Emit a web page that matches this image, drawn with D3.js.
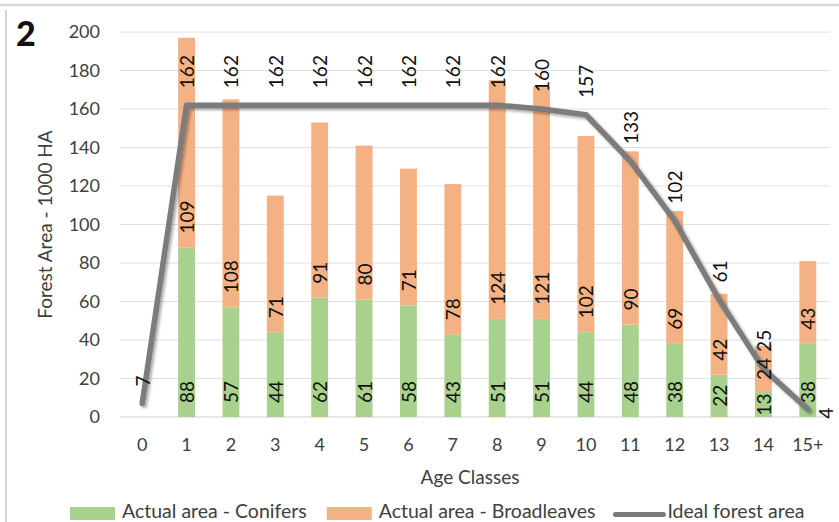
<!DOCTYPE html>
<html>
<head>
<meta charset="utf-8">
<script src="https://cdn.jsdelivr.net/npm/d3@7"></script>
<style>
  html, body { margin: 0; padding: 0; background: #fff; }
  svg { display: block; font-family: Lato, "Open Sans", sans-serif; }
</style>
</head>
<body>
<svg id="chart" width="839" height="522"></svg>
<script>
// Age classes and forest areas (1000 ha)
const ageClasses = ["0", "1", "2", "3", "4", "5", "6", "7", "8", "9", "10", "11", "12", "13", "14", "15+"];
const conifers    = [null, 88, 57, 44, 62, 61, 58, 43, 51, 51, 44, 48, 38, 22, 13, 38];
const broadleaves = [null, 109, 108, 71, 91, 80, 71, 78, 124, 121, 102, 90, 69, 42, 24, 43];
const idealArea   = [7, 162, 162, 162, 162, 162, 162, 162, 162, 160, 157, 133, 102, 61, 25, 4];
const yTicks      = [0, 20, 40, 60, 80, 100, 120, 140, 160, 180, 200];

const colors = { conifers: "#a9d18e", broadleaves: "#f4b183", ideal: "#7b7b7b" };

const svg = d3.select("#chart");
const plot = { left: 120, right: 830, top: 32, bottom: 417 };

// frame edges
svg.append("line").attr("x1", 0).attr("x2", 839).attr("y1", 5).attr("y2", 5)
  .attr("stroke", "#d9d9d9").attr("stroke-width", 2.5);
svg.append("line").attr("x1", 6).attr("x2", 6).attr("y1", 10).attr("y2", 522)
  .attr("stroke", "#d4d4d4").attr("stroke-width", 2);

// panel number
svg.append("text").attr("x", 16).attr("y", 46).attr("font-size", 34).attr("font-weight", 900)
  .attr("fill", "#111").text("2");

const x = d3.scaleBand().domain(ageClasses).range([plot.left, plot.right])
  .paddingInner(0.62).paddingOuter(0.31);
const y = d3.scaleLinear().domain([0, 200]).range([plot.bottom, plot.top]);
const cx = c => x(c) + x.bandwidth() / 2;

// gridlines
svg.append("g").selectAll("line").data(yTicks).join("line")
  .attr("x1", plot.left).attr("x2", plot.right)
  .attr("y1", d => y(d)).attr("y2", d => y(d))
  .attr("stroke", d => d === 0 ? "#cfcfcf" : "#e0e0e0").attr("stroke-width", 1);

// y axis labels
const yAxis = svg.append("g").attr("transform", `translate(${plot.left},0)`)
  .call(d3.axisLeft(y).tickValues(yTicks).tickSize(0).tickPadding(20));
yAxis.select(".domain").remove();
yAxis.selectAll("text").attr("font-size", 18).attr("font-family", "Lato, sans-serif").attr("fill", "#404040");

// x axis labels
const xAxis = svg.append("g").attr("transform", `translate(0,${plot.bottom})`)
  .call(d3.axisBottom(x).tickSize(0).tickPadding(21));
xAxis.select(".domain").remove();
xAxis.selectAll("text").attr("font-size", 18).attr("font-family", "Lato, sans-serif").attr("fill", "#404040");

// axis titles
svg.append("text").attr("x", 470).attr("y", 484).attr("text-anchor", "middle")
  .attr("font-size", 19).attr("fill", "#404040").text("Age Classes");
svg.append("text").attr("transform", `translate(52,${(plot.top + plot.bottom) / 2}) rotate(-90)`)
  .attr("text-anchor", "middle").attr("font-size", 19).attr("fill", "#404040")
  .text("Forest Area - 1000 HA");

// stacked bars
const rows = ageClasses.map((c, i) => ({ c, con: conifers[i], brd: broadleaves[i] }))
  .filter(d => d.con != null);
const bars = svg.append("g");
bars.selectAll("rect.con").data(rows).join("rect").attr("class", "con")
  .attr("x", d => x(d.c)).attr("width", x.bandwidth())
  .attr("y", d => y(d.con)).attr("height", d => y(0) - y(d.con))
  .attr("fill", colors.conifers);
bars.selectAll("rect.brd").data(rows).join("rect").attr("class", "brd")
  .attr("x", d => x(d.c)).attr("width", x.bandwidth())
  .attr("y", d => y(d.con + d.brd)).attr("height", d => y(d.con) - y(d.con + d.brd))
  .attr("fill", colors.broadleaves);

// shadow for the ideal line
const defs = svg.append("defs");
const f = defs.append("filter").attr("id", "lineShadow").attr("x", "-10%").attr("y", "-10%")
  .attr("width", "120%").attr("height", "120%");
f.append("feDropShadow").attr("dx", 2).attr("dy", 2).attr("stdDeviation", 1.8)
  .attr("flood-color", "#000").attr("flood-opacity", 0.35);

const linePts = ageClasses.map((c, i) => ({ c, v: idealArea[i] }));
svg.append("path").datum(linePts)
  .attr("d", d3.line().x(d => cx(d.c)).y(d => y(d.v)))
  .attr("fill", "none").attr("stroke", colors.ideal).attr("stroke-width", 5.5)
  .attr("stroke-linejoin", "round").attr("stroke-linecap", "round")
  .attr("filter", "url(#lineShadow)");

// value labels inside the base of each segment
const labelSize = 19;
function baseLabel(g, xPos, base, top, value) {
  const t = g.append("text").attr("font-size", labelSize).attr("fill", "#111")
    .attr("dominant-baseline", "central").text(value);
  const len = t.node().getComputedTextLength();
  const seg = base - top;
  const pad = seg >= len + 28 ? 14 : Math.max(1, (seg - len) / 2);
  t.attr("transform", `translate(${xPos},${base - pad}) rotate(-90)`);
}
const labels = svg.append("g");
rows.forEach(d => {
  baseLabel(labels, cx(d.c), y(0), y(d.con), d.con);
  baseLabel(labels, cx(d.c), y(d.con), y(d.con + d.brd), d.brd);
});

// ideal area labels above each point; the last one sits to its right
linePts.forEach((d, i) => {
  const last = i === linePts.length - 1;
  const t = labels.append("text").attr("font-size", labelSize).attr("fill", "#111")
    .attr("dominant-baseline", "central").text(d.v);
  if (last) {
    t.attr("text-anchor", "middle")
      .attr("transform", `translate(${cx(d.c) + 18},${y(d.v) + 4}) rotate(-90)`);
  } else {
    t.attr("transform", `translate(${cx(d.c)},${y(d.v) - 17}) rotate(-90)`);
  }
});

// legend
const legend = svg.append("g");
const items = [
  { name: "Actual area - Conifers", color: colors.conifers, kind: "rect" },
  { name: "Actual area - Broadleaves", color: colors.broadleaves, kind: "rect" },
  { name: "Ideal forest area", color: colors.ideal, kind: "line" }
];
let lx = 70;
items.forEach(it => {
  if (it.kind === "rect") {
    legend.append("rect").attr("x", lx).attr("y", 507).attr("width", 45).attr("height", 13)
      .attr("fill", it.color);
  } else {
    legend.append("line").attr("x1", lx).attr("x2", lx + 48).attr("y1", 514.5).attr("y2", 514.5)
      .attr("stroke", it.color).attr("stroke-width", 5).attr("stroke-linecap", "round");
  }
  const t = legend.append("text").attr("x", lx + 52).attr("y", 518).attr("font-size", 19.5)
    .attr("fill", "#404040").text(it.name);
  lx += 52 + t.node().getComputedTextLength() + 20;
});
</script>
</body>
</html>
